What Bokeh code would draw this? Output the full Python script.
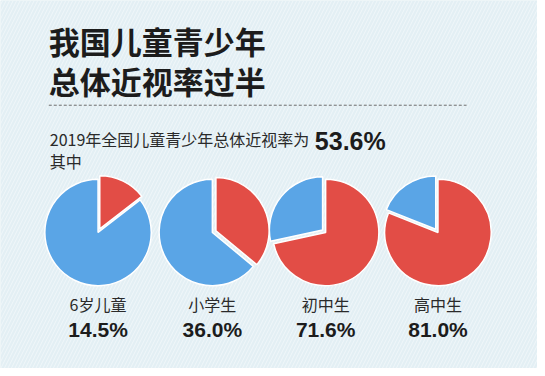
import math
from bokeh.plotting import figure
from bokeh.models import Range1d, ColumnDataSource
from bokeh.core.properties import value
from bokeh.embed import file_html
from bokeh.resources import INLINE

# ---- data ----
title_lines = ["我国儿童青少年", "总体近视率过半"]
subtitle = "2019年全国儿童青少年总体近视率为"
overall_rate = 53.6
subnote = "其中"
categories = ["6岁儿童", "小学生", "初中生", "高中生"]
myopia_rates = [14.5, 36.0, 71.6, 81.0]

# ---- layout / style ----
W, H = 537, 368
BG = "#e3eff4"
RED = "#e24d46"
BLUE = "#5aa5e6"
CJK = "Noto Sans CJK SC"
NUM = "Liberation Sans"
centers_x = [99, 215, 330, 444]
pie_y_img = 237
R = 54
EXPLODE = 4


def Y(y_img):
    return 376 - y_img


p = figure(width=W, height=H, x_range=Range1d(0, 545), y_range=Range1d(0, 376),
           output_backend="svg", toolbar_location=None,
           x_axis_location=None, y_axis_location=None, min_border=0)
p.grid.visible = False
p.outline_line_color = None
p.background_fill_color = BG
p.border_fill_color = BG

# subtle diagonal stripes in background
p.quad(left=[0], right=[545], bottom=[0], top=[376], fill_color=BG, line_color=None,
       hatch_pattern="/", hatch_color="white", hatch_alpha=0.45, hatch_scale=7, hatch_weight=1)

# ---- pies ----
rx, ry, rs, re = [], [], [], []
bx, by, bs, be = [], [], [], []
for cx, v in zip(centers_x, myopia_rates):
    f = v / 100.0
    cy = Y(pie_y_img)
    r_start = math.pi / 2
    r_end = math.pi / 2 - 2 * math.pi * f
    b_start = r_end
    b_end = math.pi / 2 - 2 * math.pi
    r_mid = math.pi / 2 - math.pi * f
    b_mid = r_end - math.pi * (1 - f)
    if f < 0.5:
        rdx, rdy = EXPLODE * math.cos(r_mid), EXPLODE * math.sin(r_mid)
        bdx, bdy = 0, 0
    else:
        rdx, rdy = 0, 0
        bdx, bdy = EXPLODE * math.cos(b_mid), EXPLODE * math.sin(b_mid)
    rx.append(cx + rdx); ry.append(cy + rdy); rs.append(r_start); re.append(r_end)
    bx.append(cx + bdx); by.append(cy + bdy); bs.append(b_start); be.append(b_end)

p.wedge(x=bx, y=by, radius=R, start_angle=bs, end_angle=be, direction="clock",
        fill_color=BLUE, line_color="white", line_width=1.5)
p.wedge(x=rx, y=ry, radius=R, start_angle=rs, end_angle=re, direction="clock",
        fill_color=RED, line_color="white", line_width=1.5)

# ---- title ----
p.text(x=[49, 49], y=[Y(41), Y(82)], text=title_lines, text_font=value(CJK),
       text_font_size="31px", text_font_style="bold", text_color="#1c1c1c",
       text_baseline="middle", text_align="left")

# dashed separator
p.segment(x0=[49], y0=[Y(107)], x1=[473], y1=[Y(107)], line_color="#6e6e6e",
          line_width=1, line_dash="3 2")

# subtitle
p.text(x=[50], y=[Y(142)], text=[subtitle], text_font=value(CJK),
       text_font_size="16px", text_color="#2a2a2a",
       text_baseline="alphabetic", text_align="left")
p.text(x=[319], y=[Y(144)], text=[f"{overall_rate:.1f}%"], text_font=value(NUM),
       text_font_size="25px", text_font_style="bold", text_color="#1c1c1c",
       text_baseline="alphabetic", text_align="left")
p.text(x=[50], y=[Y(164)], text=[subnote], text_font=value(CJK),
       text_font_size="16px", text_color="#2a2a2a",
       text_baseline="middle", text_align="left")

# category labels
src = ColumnDataSource(dict(
    x=centers_x,
    cat=categories,
    pct=[f"{v:.1f}%" for v in myopia_rates],
    ycat=[Y(310)] * len(categories),
    ypct=[Y(336)] * len(categories),
))
p.text(x="x", y="ycat", text="cat", source=src, text_font=value(CJK),
       text_font_size="16px", text_color="#2a2a2a",
       text_baseline="middle", text_align="center")
p.text(x="x", y="ypct", text="pct", source=src, text_font=value(NUM),
       text_font_size="21px", text_font_style="bold", text_color="#1c1c1c",
       text_baseline="middle", text_align="center")

open("out.html", "w").write(file_html(p, INLINE))
